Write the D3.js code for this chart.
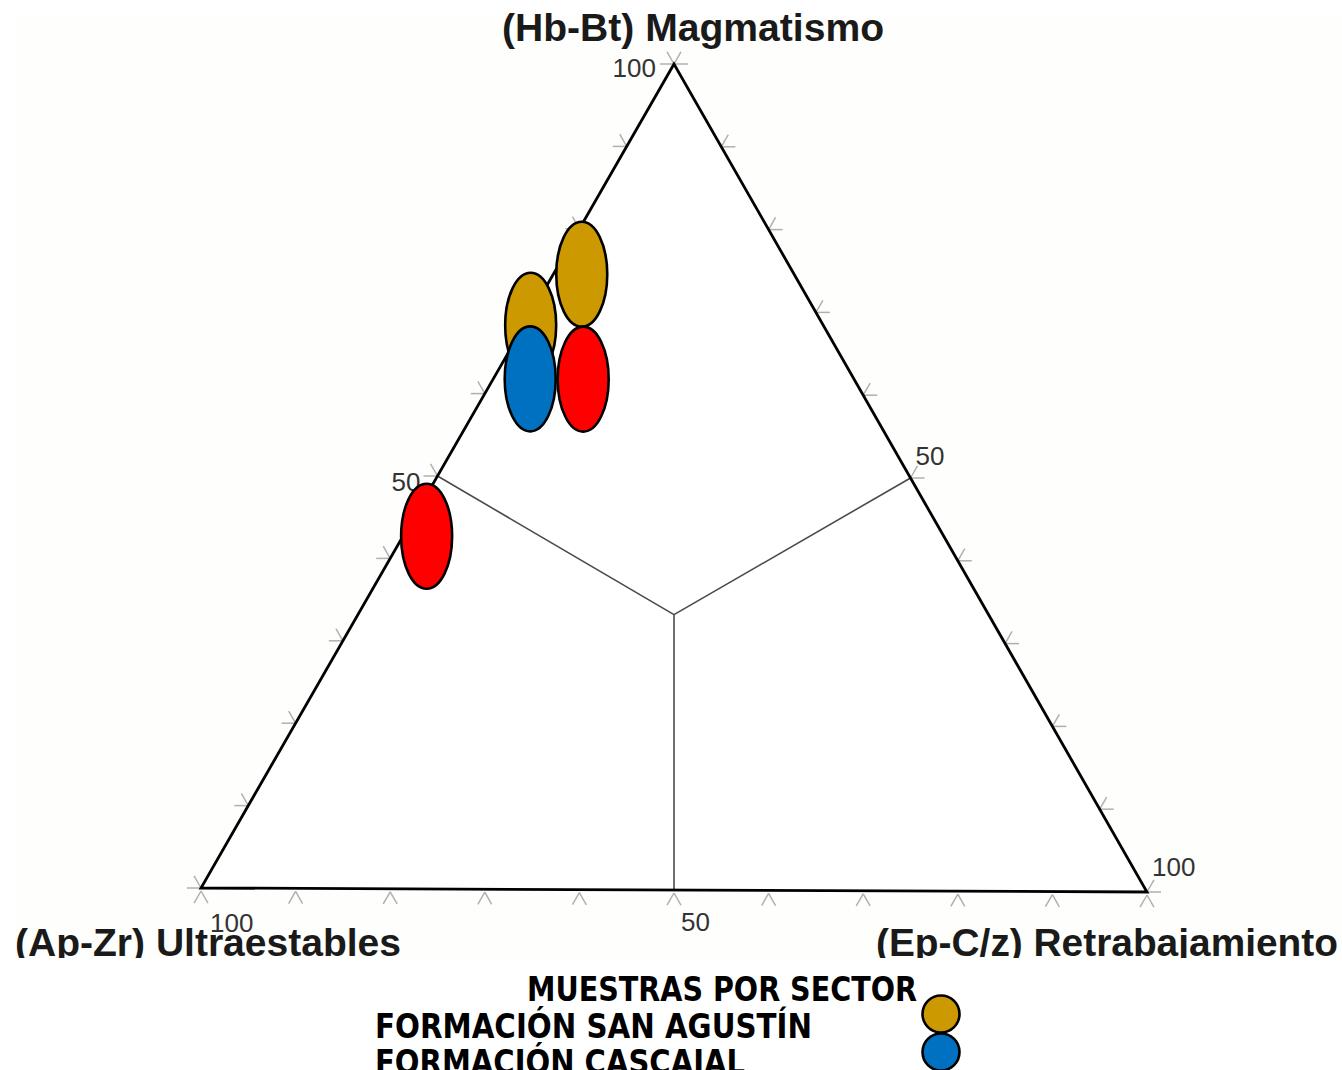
<!DOCTYPE html>
<html>
<head>
  <meta charset="utf-8"/>
  <title>Diagrama ternario</title>
  <script src="https://cdn.jsdelivr.net/npm/d3@7"></script>
<style>
body { margin: 0; background: #fff; }
svg text { font-family: "Liberation Sans", Arial, sans-serif; }
.tick-label { font-size: 26px; fill: #333; }
.axis-title { font-size: 38px; font-weight: bold; fill: #1a1a1a; }
.legend text { font-family: "Liberation Sans Narrow", "DejaVu Sans Condensed", "Liberation Sans", sans-serif; font-weight: bold; font-size: 33px; fill: #000; font-stretch: condensed; }
</style>
</head>
<body>
<svg id="chart" width="1342" height="1070"></svg>
<script>
// composition (%) of each sample: Hb-Bt, Ap-Zr, Ep-C/z
var magmatismo      = [74.5, 68.3, 61.8, 61.8, 42.7];
var ultraestables   = [22.5, 31.0, 34.3, 28.7, 54.8];
var retrabajamiento = [3.0, 0.7, 3.9, 9.5, 2.5];
var grupo = ["sanagustin", "sanagustin", "cascajal", "otro", "otro"];

var grupos = ["sanagustin", "cascajal", "otro"];
var colores = ["#cc9900", "#0070c0", "#ff0000"];
var leyenda = ["FORMACIÓN SAN AGUSTÍN", "FORMACIÓN CASCAJAL"];
var tickValues = d3.range(0, 101, 10);

var svg = d3.select("#chart");
var color = d3.scaleOrdinal().domain(grupos).range(colores);

// triangle corners in pixels
var T = [674, 64], L = [201, 888], R = [1147, 892];

// linear maps: a = Hb-Bt fraction, c = Ep-C/z fraction (b = rest)
var ax = d3.scaleLinear().domain([0, 100]).range([0, T[0] - L[0]]);
var ay = d3.scaleLinear().domain([0, 100]).range([0, T[1] - L[1]]);
var cx = d3.scaleLinear().domain([0, 100]).range([0, R[0] - L[0]]);
var cy = d3.scaleLinear().domain([0, 100]).range([0, R[1] - L[1]]);
function pos(a, c) {
  return [L[0] + ax(a) + cx(c), L[1] + ay(a) + cy(c)];
}

// background
svg.append("rect").attr("width", 1342).attr("height", 1070).attr("fill", "#fff");
svg.append("clipPath").attr("id", "clip")
  .append("rect").attr("x", 0).attr("y", 0).attr("width", 1342).attr("height", 958);
var g = svg.append("g").attr("clip-path", "url(#clip)");
g.append("rect").attr("x", 16).attr("y", 16).attr("width", 1326).attr("height", 942).attr("fill", "#fefefc");

var line = d3.line();
g.append("path")
  .attr("d", line([T, L, R]) + "Z")
  .attr("fill", "#fff");

// ticks: two short grey strokes per edge point along the other grid directions
function unit(p, q) {
  var dx = q[0] - p[0], dy = q[1] - p[1], n = Math.hypot(dx, dy);
  return [dx / n, dy / n];
}
var dirTL = unit(T, L), dirTR = unit(T, R), dirLT = unit(L, T), dirRT = unit(R, T);
var tl = 14;
var ticks = [];
tickValues.forEach(function(v) {
  var pl = pos(v, 0);             // left edge
  ticks.push([pl, [pl[0] - tl, pl[1]]]);
  ticks.push([pl, [pl[0] + dirRT[0] * tl, pl[1] + dirRT[1] * tl]]);
  var pr = pos(100 - v, v);       // right edge
  ticks.push([pr, [pr[0] + tl, pr[1]]]);
  ticks.push([pr, [pr[0] + dirLT[0] * tl, pr[1] + dirLT[1] * tl]]);
  var pb = pos(0, v);             // bottom edge
  var pb2 = [pb[0], pb[1] + 3];
  ticks.push([pb2, [pb2[0] + dirTL[0] * tl, pb2[1] + dirTL[1] * tl]]);
  ticks.push([pb2, [pb2[0] + dirTR[0] * tl, pb2[1] + dirTR[1] * tl]]);
});
g.append("g").selectAll("path").data(ticks).join("path")
  .attr("d", function(d) { return line(d); })
  .attr("stroke", "#b0b0b0").attr("stroke-width", 1.5).attr("fill", "none");

// field boundaries from edge midpoints to the centroid
var centro = pos(100 / 3, 100 / 3);
[pos(50, 0), pos(50, 50), pos(0, 50)].forEach(function(p) {
  g.append("path").attr("d", line([p, centro]))
    .attr("stroke", "#4a4a4a").attr("stroke-width", 1.6).attr("fill", "none");
});

g.append("path")
  .attr("d", line([T, L, R]) + "Z")
  .attr("fill", "none").attr("stroke", "#000").attr("stroke-width", 2.8)
  .attr("stroke-linejoin", "miter");

// tick labels
var labels = [
  {t: "100", p: pos(100, 0), dx: -18, dy: 13, anchor: "end"},
  {t: "50", p: pos(50, 0), dx: -17, dy: 15, anchor: "end"},
  {t: "50", p: pos(50, 50), dx: 5, dy: -13, anchor: "start"},
  {t: "100", p: pos(0, 100), dx: 5, dy: -16, anchor: "start"},
  {t: "100", p: pos(0, 0), dx: 9, dy: 44, anchor: "start"},
  {t: "50", p: pos(0, 50), dx: 7, dy: 41, anchor: "start"}
];
g.append("g").selectAll("text").data(labels).join("text")
  .attr("class", "tick-label")
  .attr("x", function(d) { return d.p[0] + d.dx; })
  .attr("y", function(d) { return d.p[1] + d.dy; })
  .attr("text-anchor", function(d) { return d.anchor; })
  .text(function(d) { return d.t; });

// axis titles
g.append("text").attr("class", "axis-title").attr("x", 693).attr("y", 41)
  .attr("text-anchor", "middle").attr("textLength", 382).attr("lengthAdjust", "spacingAndGlyphs")
  .text("(Hb-Bt) Magmatismo");
g.append("text").attr("class", "axis-title").attr("x", 15).attr("y", 956)
  .attr("textLength", 386).attr("lengthAdjust", "spacingAndGlyphs")
  .text("(Ap-Zr) Ultraestables");
g.append("text").attr("class", "axis-title").attr("x", 876).attr("y", 956)
  .attr("textLength", 462).attr("lengthAdjust", "spacingAndGlyphs")
  .text("(Ep-C/z) Retrabajamiento");

// samples
var muestras = magmatismo.map(function(m, i) {
  return {p: pos(m, retrabajamiento[i]), g: grupo[i]};
});
g.append("g").selectAll("ellipse").data(muestras).join("ellipse")
  .attr("cx", function(d) { return d.p[0]; })
  .attr("cy", function(d) { return d.p[1]; })
  .attr("rx", 25.5).attr("ry", 52.5)
  .attr("fill", function(d) { return color(d.g); })
  .attr("stroke", "#000").attr("stroke-width", 2.6);

// legend
var lg = svg.append("g").attr("class", "legend");
lg.append("text").attr("x", 527).attr("y", 1001)
  .attr("textLength", 390).attr("lengthAdjust", "spacingAndGlyphs")
  .text("MUESTRAS POR SECTOR");
var lw = [437, 370];
leyenda.forEach(function(t, i) {
  lg.append("text").attr("x", 375).attr("y", 1038 + i * 36)
    .attr("textLength", lw[i]).attr("lengthAdjust", "spacingAndGlyphs")
    .text(t);
  lg.append("circle").attr("cx", 941).attr("cy", 1014 + i * 38).attr("r", 18.5)
    .attr("fill", color(grupos[i])).attr("stroke", "#000").attr("stroke-width", 2.6);
});
</script>
</body>
</html>
